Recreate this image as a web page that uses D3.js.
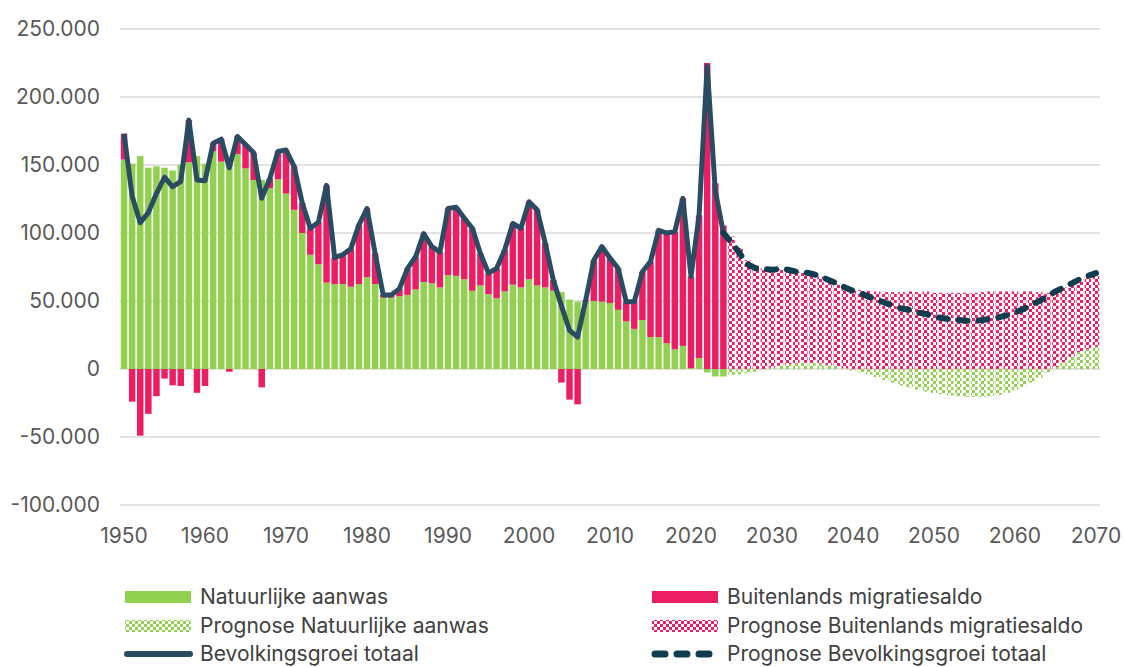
<!DOCTYPE html>
<meta charset="utf-8">
<title>Bevolkingsgroei</title>
<script src="https://d3js.org/d3.v7.min.js"></script>
<style>
  body { margin: 0; background: #fff; }
  text { font-family: Inter, "Noto Sans", sans-serif; }
</style>
<body>
<div id="chart"></div>
<script>

// all values in thousands
var histYears = d3.range(1950, 2025);
var projYears = d3.range(2025, 2071);

var histNatural = [
  154, 151, 156.5, 148, 149, 148, 146, 150, 152, 156.5,
  151, 160, 152.5, 150, 158, 147.5, 139, 139, 133, 139.5,
  129, 117, 100, 84, 77, 63.5, 62.5, 62.5, 60.5, 62.5,
  67.5, 62.5, 52.5, 52.5, 53.5, 54.5, 58.5, 64, 63, 60,
  69, 68.5, 66, 57.5, 61.5, 55, 52, 57, 62, 60,
  66, 61.5, 60, 57.5, 56.5, 51, 49.5, 49.5, 50, 49.5,
  48.5, 43.5, 35, 29.5, 36, 23.5, 23.5, 19, 14.5, 17,
  0.5, 8, -2.5, -5.5, -5.5
];
var histMigration = [
  19, -24, -49, -33, -20, -7, -12, -12.5, 31, -17.5,
  -12.5, 6, 16.5, -2, 13, 17.5, 20, -13.5, 7, 20.5,
  32, 32, 22, 19.5, 31, 71.5, 19.5, 21.5, 28, 43.5,
  50.5, 22.5, 2, 2, 5.5, 19.5, 24, 35.5, 27, 26,
  49, 50.5, 45, 46, 23.5, 15.5, 22, 30.5, 45, 43.5,
  57, 55.5, 32.5, 8, -10, -22.5, -26, 1, 30, 40.5,
  33, 30.5, 14.5, 20, 35.5, 55.5, 78.5, 81, 86.5, 108.5,
  67.5, 105, 225, 136.5, 105.5
];
var histTotal = [
  173, 127, 107.5, 115, 129, 141, 134, 138, 183, 139,
  138.5, 166, 169, 148, 171, 165, 159, 125.5, 140, 160,
  161, 149, 122, 103.5, 108, 135, 82, 84, 88.5, 106,
  118, 85, 54.5, 54.5, 59, 74, 82.5, 99.5, 90, 86,
  118, 119, 111, 103.5, 85, 70.5, 74, 87.5, 107, 103.5,
  123, 117, 92.5, 65.5, 46.5, 28.5, 23.5, 50.5, 80, 90,
  81.5, 74, 49.5, 49.5, 71.5, 79, 102, 100, 101, 125.5,
  68, 113, 222.5, 131, 100
];

var projNatural = [
  -4.5, -4, -3, -2, -0.5, 1, 2.5, 3.5, 4, 4.5,
  4.5, 4, 3, 2, 0.5, -1, -2.5, -4, -6, -8,
  -10, -12, -13.5, -15, -16.5, -17.5, -18.5, -19.5, -20, -20.5,
  -20.5, -20.5, -20, -19, -17.5, -15.5, -13, -10, -6.5, -2.5,
  1.5, 5, 9, 12.5, 14.5, 16.5
];
var projMigration = [
  97.5, 89, 80, 76, 74, 72, 71, 69.5, 67.5, 66.5,
  65.5, 64, 62.5, 61, 59.5, 58.5, 58, 57.5, 57, 56.5,
  56.5, 56.5, 57, 56.5, 57, 56, 56, 56, 56, 56,
  56, 56.5, 57, 57, 57, 57, 57, 57, 56.5, 56,
  55.5, 55, 54, 53.5, 54, 54
];
var projTotal = [
  93, 85, 77, 74, 73.5, 73, 73.5, 73, 71.5, 71,
  70, 68, 65.5, 63, 60, 57.5, 55.5, 53, 51, 48.5,
  46.5, 44.5, 43.5, 41.5, 40.5, 38.5, 37.5, 36.5, 36, 35.5,
  35.5, 36, 37, 38, 39.5, 41.5, 44, 47, 50, 53.5,
  57, 60, 63, 66, 68.5, 70.5
];

var yTicks = [-100, -50, 0, 50, 100, 150, 200, 250];
var xTicks = [1950, 1960, 1970, 1980, 1990, 2000, 2010, 2020, 2030, 2040, 2050, 2060, 2070];

var green = "#92d050", red = "#ec1e63", lineCol = "#2a4c62", dashCol = "#0e3d4f";
var textCol = "#595959";

var width = 1124, height = 667;
var svg = d3.select("#chart").append("svg")
  .attr("width", width)
  .attr("height", height);

svg.append("rect").attr("width", width).attr("height", height).attr("fill", "#fff");

// checkerboard patterns for the prognosis
var defs = svg.append("defs");
function checker(id, color) {
  var p = defs.append("pattern")
    .attr("id", id)
    .attr("patternUnits", "userSpaceOnUse")
    .attr("width", 6).attr("height", 6);
  p.append("rect").attr("width", 3).attr("height", 3).attr("fill", color);
  p.append("rect").attr("x", 3).attr("y", 3).attr("width", 3).attr("height", 3).attr("fill", color);
}
checker("patGreen", green);
checker("patRed", red);

var x = d3.scaleBand()
  .domain(histYears.concat(projYears))
  .range([120, 1100])
  .paddingInner(0.2)
  .paddingOuter(0.1);
var bw = x.bandwidth();

var y = d3.scaleLinear().domain([-100, 250]).range([505, 29]);

var nl = d3.formatLocale({ decimal: ",", thousands: ".", grouping: [3], currency: ["€", ""], minus: "-" });
var fmt = nl.format(",.0f");

// gridlines
svg.append("g").selectAll("line")
  .data(yTicks)
  .enter().append("line")
  .attr("x1", 120).attr("x2", 1100)
  .attr("y1", function (d) { return y(d); })
  .attr("y2", function (d) { return y(d); })
  .attr("stroke", "#d9d9d9")
  .attr("stroke-width", 1.5);

// y labels
svg.append("g").selectAll("text")
  .data(yTicks)
  .enter().append("text")
  .attr("x", 100)
  .attr("y", function (d) { return y(d); })
  .attr("dy", "0.35em")
  .attr("text-anchor", "end")
  .attr("font-size", 21)
  .attr("fill", textCol)
  .text(function (d) { return fmt(d * 1000); });

// x labels
svg.append("g").selectAll("text")
  .data(xTicks)
  .enter().append("text")
  .attr("x", function (d) { return x(d) + bw / 2; })
  .attr("y", 536)
  .attr("dy", "0.35em")
  .attr("text-anchor", "middle")
  .attr("font-size", 21)
  .attr("fill", textCol)
  .text(function (d) { return d; });

// stacked bars
var rows = [];
histYears.forEach(function (yr, i) {
  rows.push({ year: yr, natural: histNatural[i], migration: histMigration[i], prog: false });
});
projYears.forEach(function (yr, i) {
  rows.push({ year: yr, natural: projNatural[i], migration: projMigration[i], prog: true });
});

var stack = d3.stack()
  .keys(["natural", "migration"])
  .offset(d3.stackOffsetDiverging);
var series = stack(rows);

svg.append("g").selectAll("g")
  .data(series)
  .enter().append("g")
  .each(function (s) {
    d3.select(this).selectAll("rect")
      .data(s)
      .enter().append("rect")
      .attr("x", function (d) { return x(d.data.year); })
      .attr("width", bw)
      .attr("y", function (d) { return y(Math.max(d[0], d[1])); })
      .attr("height", function (d) { return Math.abs(y(d[0]) - y(d[1])); })
      .attr("fill", function (d) {
        if (s.key === "natural") return d.data.prog ? "url(#patGreen)" : green;
        return d.data.prog ? "url(#patRed)" : red;
      });
  });

// total lines
var line = d3.line()
  .x(function (d) { return x(d.year) + bw / 2; })
  .y(function (d) { return y(d.value); });

var histLine = histYears.map(function (yr, i) { return { year: yr, value: histTotal[i] }; });
var projLine = [histLine[histLine.length - 1]].concat(
  projYears.map(function (yr, i) { return { year: yr, value: projTotal[i] }; }));

svg.append("path")
  .datum(histLine)
  .attr("d", line)
  .attr("fill", "none")
  .attr("stroke", lineCol)
  .attr("stroke-width", 5)
  .attr("stroke-linejoin", "round");

svg.append("path")
  .datum(projLine)
  .attr("d", line)
  .attr("fill", "none")
  .attr("stroke", dashCol)
  .attr("stroke-width", 6)
  .attr("stroke-linecap", "round")
  .attr("stroke-dasharray", "9 11");

// legend
var legendItems = [
  { label: "Natuurlijke aanwas", kind: "bar", fill: green, x: 125, y: 597 },
  { label: "Buitenlands migratiesaldo", kind: "bar", fill: red, x: 652, y: 597 },
  { label: "Prognose Natuurlijke aanwas", kind: "bar", fill: "url(#patGreen)", x: 125, y: 626 },
  { label: "Prognose Buitenlands migratiesaldo", kind: "bar", fill: "url(#patRed)", x: 652, y: 626 },
  { label: "Bevolkingsgroei totaal", kind: "line", x: 125, y: 654 },
  { label: "Prognose Bevolkingsgroei totaal", kind: "dash", x: 652, y: 654 }
];

var lg = svg.append("g").selectAll("g")
  .data(legendItems)
  .enter().append("g");

lg.each(function (d) {
  var g = d3.select(this);
  if (d.kind === "bar") {
    g.append("rect")
      .attr("x", d.x).attr("y", d.y - 6)
      .attr("width", 66).attr("height", 12)
      .attr("fill", d.fill);
  } else if (d.kind === "line") {
    g.append("line")
      .attr("x1", d.x + 2).attr("x2", d.x + 65)
      .attr("y1", d.y).attr("y2", d.y)
      .attr("stroke", lineCol).attr("stroke-width", 6)
      .attr("stroke-linecap", "round");
  } else {
    g.append("line")
      .attr("x1", d.x + 3).attr("x2", d.x + 66)
      .attr("y1", d.y).attr("y2", d.y)
      .attr("stroke", dashCol).attr("stroke-width", 7)
      .attr("stroke-linecap", "round")
      .attr("stroke-dasharray", "10 12");
  }
  g.append("text")
    .attr("x", d.x + 75)
    .attr("y", d.y)
    .attr("dy", "0.35em")
    .attr("font-size", 21)
    .attr("fill", "#404040")
    .text(d.label);
});

</script>
</body>
